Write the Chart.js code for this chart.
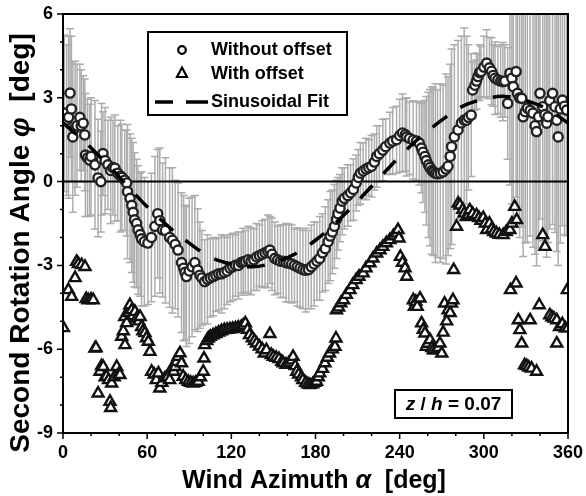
<!DOCTYPE html>
<html lang="en">
<head>
<meta charset="UTF-8">
<title>Second rotation angle vs wind azimuth</title>
<style>
  body { margin: 0; background: #fff; }
  canvas { display: block; }
</style>
<script src="https://cdn.jsdelivr.net/npm/chart.js"></script>
</head>
<body>
<canvas id="rotChart" width="586" height="496"></canvas>
<script>
const FONT = '"Liberation Sans", Arial, Helvetica, sans-serif';

// axis ticks
const xTickValues = [0, 60, 120, 180, 240, 300, 360];
const yTickValues = [-9, -6, -3, 0, 3, 6];

// "Without offset" circles: azimuth, angle, error bar half-length (deg)
const withoutDeg = [
  1, 2.6, 4, 5, 6, 7, 8.6, 10, 12, 13,
  14.4, 15.5, 16, 17.5, 19, 20, 22.8, 25, 27, 27.5,
  28.5, 30, 32, 34, 35.6, 37, 39, 41, 42, 44,
  45.4, 46, 47.8, 49, 50, 51, 52.5, 53.5, 55, 56,
  58, 60.5, 63, 65.5, 67.5, 69, 71, 73, 76, 78,
  80, 82, 84.5, 86, 87, 88, 90, 92, 94, 96,
  97.6, 99, 101, 103, 105, 107, 109, 111, 113, 115,
  117, 119, 121, 123, 125, 127, 128.5, 130, 132, 134,
  136, 138, 140, 142, 144, 146, 147.5, 149, 151, 153,
  155, 157, 159, 161, 163, 165, 167, 169, 171, 173,
  175, 177, 179, 181, 183, 185, 187, 189, 190.5, 192,
  193.5, 195, 196, 197.5, 199, 200.5, 203, 205, 207, 209,
  210.5, 212, 214, 216, 218, 220, 222, 223.6, 225.5, 228,
  230, 233, 235, 237.8, 240, 242, 244, 245, 247, 249.6,
  252, 254, 255.5, 256.6, 258, 259, 260.5, 261.6, 263, 264,
  265.5, 267, 269, 271, 273, 274.5, 276, 277, 279, 281.6,
  284, 286, 287.7, 289, 291, 292, 293.6, 294.8, 295.8, 297,
  298, 300, 302, 304, 305.5, 306.7, 308, 310, 312, 313.6,
  315, 317, 318.6, 320, 321, 323, 324, 325.5, 327, 328,
  329.5, 331, 333, 335, 336.5, 337.6, 339, 340, 342, 343.5,
  344.8, 345.7, 347, 349, 350.7, 352, 353, 354.5, 356, 357.5,
  359
];
const withoutPhi = [
  2.45, 2.2, 2.3, 3.17, 2.6, 1.6, 1.91, 2.0, 2.3, 2.0,
  2.09, 1.67, 0.95, 0.85, 0.77, 0.9, 0.6, 0.13, 0.0, 0.8,
  1.0, 0.75, 0.6, 0.4, 0.5, 0.48, 0.3, 0.2, 0.15, 0.05,
  -0.05, -0.36, -0.6, -0.85, -1.1, -1.37, -1.5, -1.73, -1.9, -2.05,
  -2.15, -2.2, -2.0, -1.6, -1.15, -1.4, -1.73, -1.75, -2.0, -2.1,
  -2.25, -2.45, -2.9, -3.1, -3.25, -3.4, -3.2, -3.05, -2.9, -3.17,
  -3.35, -3.45, -3.58, -3.5, -3.45, -3.4, -3.35, -3.3, -3.3, -3.25,
  -3.2, -3.1, -3.05, -3.0, -3.0, -2.9, -2.87, -2.85, -2.8, -2.85,
  -2.8, -2.7, -2.65, -2.6, -2.55, -2.5, -2.45, -2.6, -2.75, -2.8,
  -2.85, -2.85, -2.9, -2.92, -2.95, -3.0, -3.05, -3.1, -3.15, -3.17,
  -3.15, -3.05, -2.95, -2.85, -2.75, -2.55, -2.4, -2.15, -1.95, -1.8,
  -1.6, -1.35, -1.15, -0.95, -0.7, -0.6, -0.5, -0.4, -0.28, -0.05,
  0.15, 0.3, 0.38, 0.45, 0.5, 0.55, 0.7, 0.9, 1.0, 1.13,
  1.25, 1.38, 1.45, 1.5, 1.65, 1.74, 1.68, 1.6, 1.55, 1.49,
  1.45, 1.38, 1.2, 1.05, 0.9, 0.75, 0.6, 0.5, 0.4, 0.35,
  0.3, 0.28, 0.3, 0.35, 0.45, 0.55, 0.9, 1.25, 1.6, 1.85,
  2.1, 2.2, 2.2, 2.3, 2.38, 3.28, 3.45, 3.6, 3.76, 3.9,
  3.94, 4.1, 4.24, 4.07, 3.95, 3.8, 3.7, 3.64, 3.6, 3.58,
  3.6, 2.8, 3.88, 3.7, 3.4, 3.94, 3.16, 3.0, 2.98, 2.32,
  2.5, 2.63, 2.55, 2.45, 2.0, 1.79, 2.32, 3.16, 2.68, 2.4,
  2.09, 2.32, 2.9, 3.16, 2.68, 2.2, 1.6, 2.6, 2.92, 2.7,
  2.56
];
const withoutErr = [
  2.8, 2.7, 2.9, 2.3, 2.6, 2.7, 2.4, 2.2, 1.9, 2.0,
  1.7, 2.0, 2.2, 2.1, 2.0, 2.1, 2.3, 2.1, 1.8, 2.0,
  1.5, 1.9, 1.6, 1.9, 1.7, 1.9, 1.7, 2.0, 1.9, 1.8,
  1.9, 2.4, 2.3, 2.4, 2.5, 2.4, 2.3, 2.3, 2.2, 2.4,
  2.3, 2.2, 2.3, 2.5, 2.3, 2.6, 2.4, 2.6, 2.5, 2.6,
  2.3, 2.4, 2.5, 2.6, 2.4, 2.5, 2.6, 2.5, 2.4, 2.2,
  1.9, 1.7, 1.5, 1.6, 1.4, 1.4, 1.3, 1.3, 1.4, 1.3,
  1.2, 1.2, 1.2, 1.1, 1.2, 1.1, 1.2, 1.1, 1.2, 1.2,
  1.1, 1.2, 1.1, 1.2, 1.2, 1.3, 1.2, 1.3, 1.3, 1.2,
  1.3, 1.3, 1.4, 1.4, 1.4, 1.3, 1.4, 1.4, 1.4, 1.5,
  1.4, 1.5, 1.5, 1.4, 1.5, 1.4, 1.5, 1.5, 1.6, 1.5,
  1.5, 1.4, 1.3, 1.2, 1.2, 1.1, 1.1, 1.0, 1.1, 1.0,
  1.0, 1.1, 1.0, 1.1, 1.0, 1.1, 1.0, 1.1, 1.0, 1.1,
  1.0, 1.1, 1.2, 1.2, 1.3, 1.4, 1.3, 1.4, 1.3, 1.4,
  1.4, 1.5, 1.6, 1.8, 2.0, 2.3, 2.6, 2.8, 3.0, 3.0,
  3.2, 3.0, 3.2, 3.1, 3.4, 3.2, 3.3, 3.5, 3.3, 3.2,
  3.1, 3.3, 3.0, 2.6, 2.2, 1.0, 0.9, 1.0, 0.8, 1.0,
  0.9, 1.1, 1.2, 1.1, 1.2, 1.1, 1.3, 1.2, 1.3, 1.4,
  1.3, 2.0, 4.0, 4.5, 4.8, 4.5, 4.8, 5.0, 4.6, 5.0,
  4.7, 4.8, 4.5, 4.8, 4.6, 4.8, 4.7, 4.5, 4.8, 4.6,
  4.8, 4.5, 4.6, 4.7, 4.5, 4.7, 4.6, 4.8, 4.5, 4.6,
  4.5
];

// "With offset" triangles: azimuth, angle (deg)
const withDeg = [
  0.3, 3.8, 6.2, 8.6, 9.7, 11, 13.3, 15.7, 16.5, 18,
  20, 21.6, 22.8, 23.5, 25, 26.4, 27.5, 28.7, 30, 31,
  32.5, 33.5, 34, 34.7, 36.5, 38.3, 39.5, 40.6, 41.8, 43,
  44, 44.2, 45.4, 46.5, 47.7, 49, 50, 51.3, 52.5, 54,
  55, 56, 57, 58.4, 59.5, 60.8, 62, 63.2, 65, 66.5,
  68, 69, 70.5, 72.7, 74.5, 76, 77.5, 79, 80, 81,
  82, 83.4, 84.5, 85.7, 87.5, 89.3, 91, 92.8, 94.5, 96.4,
  98, 100, 100.5, 101, 102.5, 103.6, 105, 107, 109, 111,
  113, 115, 117, 119, 121, 123, 125, 127, 128.5, 130,
  131.5, 133, 135, 136.5, 138, 140, 142, 143.5, 145, 147.5,
  148.5, 150, 152, 154, 156, 157, 159, 161, 163, 164,
  165.5, 166.6, 168, 170, 171, 173, 174.5, 176, 178, 179.5,
  180.8, 182, 183, 185, 186.7, 188.5, 190, 192, 193.9, 194.6,
  195, 196.5, 198, 200, 202, 204.6, 206.5, 209, 211, 214,
  216, 218.8, 221, 223.6, 226, 228, 230.5, 233, 235.5, 237.8,
  238.8, 239.5, 240.5, 242, 243.8, 245, 249.7, 250.5, 251.5, 252.5,
  254.5, 255.6, 256.8, 258, 259, 260, 261.6, 263, 264, 266,
  267.5, 268.7, 270, 271, 272, 273.5, 274.5, 276, 277, 278,
  278.5, 280.6, 281.7, 283, 285, 286, 287.6, 289, 290, 292,
  294.8, 296.5, 298, 299.6, 301, 302, 304, 305.5, 307, 309,
  311, 313.8, 316, 318.6, 320, 322, 323.4, 319, 323, 324.6,
  325.7, 327, 329, 330.5, 332, 333, 334, 337.6, 339.5, 342,
  343.6, 347, 348.5, 350, 352, 352, 354, 356, 358, 360,
  359.5
];
const withPhi = [
  -5.24, -3.88, -4.12, -3.45, -2.87, -2.95, -2.98, -3.05, -4.2, -4.24,
  -4.22, -4.24, -5.97, -5.95, -7.58, -6.8, -6.6, -6.63, -7.0, -6.98,
  -7.1, -7.88, -8.1, -7.22, -7.0, -6.63, -6.9, -6.92, -5.55, -5.35,
  -4.84, -5.85, -5.06, -4.7, -4.42, -4.6, -4.8, -4.66, -4.9, -5.0,
  -4.84, -5.2, -5.35, -5.42, -5.6, -5.73, -6.09, -6.8, -6.9, -7.1,
  -6.86, -7.4, -7.2, -7.04, -7.0, -7.1, -6.7, -6.8, -6.63, -6.45,
  -6.27, -6.14, -6.5, -6.98, -7.1, -7.16, -7.2, -7.22, -7.2, -7.16,
  -7.0, -6.8, -6.33, -5.85, -5.7, -5.61, -5.55, -5.5, -5.45, -5.4,
  -5.35, -5.31, -5.3, -5.28, -5.27, -5.25, -5.22, -5.2, -5.15, -5.07,
  -5.3, -5.49, -5.6, -5.7, -5.79, -5.9, -6.0, -6.15, -6.03, -5.45,
  -6.2, -6.27, -6.3, -6.35, -6.45, -6.5, -6.55, -6.5, -6.4, -6.27,
  -6.6, -6.8, -6.9, -7.0, -7.1, -7.2, -7.25, -7.28, -7.25, -7.2,
  -7.16, -7.0, -6.86, -6.7, -6.5, -6.3, -6.15, -6.0, -5.91, -5.61,
  -4.6, -4.5, -4.35, -4.24, -4.05, -3.88, -3.7, -3.52, -3.4, -3.28,
  -3.1, -2.92, -2.75, -2.57, -2.45, -2.33, -2.2, -2.09, -1.95, -1.85,
  -1.73, -2.03, -2.69, -2.9, -3.1, -3.4, -4.24, -4.48, -4.3, -4.48,
  -4.18, -5.07, -5.3, -5.43, -5.91, -5.8, -5.67, -5.95, -6.03, -6.03,
  -5.95, -5.79, -6.15, -5.4, -4.36, -5.0, -4.6, -4.7, -4.36, -4.24,
  -3.16, -1.61, -0.78, -0.85, -1.0, -1.14, -1.26, -1.2, -1.02, -1.15,
  -1.2, -1.3, -1.4, -1.3, -1.5, -1.73, -1.5, -1.7, -1.8, -1.85,
  -1.9, -1.91, -1.8, -1.73, -1.5, -0.9, -1.37, -3.88, -3.64, -4.96,
  -5.31, -5.79, -6.57, -6.6, -6.65, -4.96, -6.69, -6.8, -4.42, -1.91,
  -2.33, -4.78, -4.85, -4.9, -4.96, -5.79, -5.2, -5.1, -5.25, -5.25,
  -3.88
];

// sinusoidal fit
const fitDeg = [0, 15, 30, 45, 60, 75, 90, 105, 120, 135, 150, 165, 180,
                195, 210, 225, 240, 255, 270, 285, 300, 315, 330, 345, 360];
const fitPhi = [2.1, 1.45, 0.7, -0.1, -0.9, -1.6, -2.2, -2.7, -2.95, -3.05, -2.9, -2.6, -2.1,
                -1.45, -0.7, 0.1, 0.9, 1.6, 2.2, 2.7, 2.95, 3.05, 2.9, 2.6, 2.1];

function drawParts(ctx, parts, size, cx, cy) {
  let total = 0;
  parts.forEach(p => {
    ctx.font = (p[1] ? 'italic ' : '') + 'bold ' + size + 'px ' + FONT;
    p.w = ctx.measureText(p[0]).width;
    total += p.w;
  });
  let x = cx - total / 2;
  ctx.textAlign = 'left';
  parts.forEach(p => {
    ctx.font = (p[1] ? 'italic ' : '') + 'bold ' + size + 'px ' + FONT;
    ctx.fillText(p[0], x, cy);
    x += p.w;
  });
}

const decorations = {
  id: 'decorations',
  beforeDatasetsDraw(chart) {
    const {ctx, chartArea: a, scales: {x, y}} = chart;
    ctx.save();
    ctx.beginPath();
    ctx.rect(a.left, a.top, a.right - a.left, a.bottom - a.top);
    ctx.clip();
    // error bars
    ctx.strokeStyle = '#adadad';
    ctx.lineWidth = 1.5;
    for (let i = 0; i < withoutDeg.length; i++) {
      const px = x.getPixelForValue(withoutDeg[i]);
      const top = y.getPixelForValue(withoutPhi[i] + withoutErr[i]);
      const bot = y.getPixelForValue(withoutPhi[i] - withoutErr[i]);
      ctx.beginPath();
      ctx.moveTo(px, top); ctx.lineTo(px, bot);
      ctx.moveTo(px - 4, top); ctx.lineTo(px + 4, top);
      ctx.moveTo(px - 4, bot); ctx.lineTo(px + 4, bot);
      ctx.stroke();
    }
    // zero line
    const y0 = y.getPixelForValue(0);
    ctx.strokeStyle = '#000';
    ctx.lineWidth = 2;
    ctx.beginPath();
    ctx.moveTo(a.left, y0); ctx.lineTo(a.right, y0);
    ctx.stroke();
    ctx.restore();
  },
  afterDraw(chart) {
    const {ctx, chartArea: a, scales: {x, y}} = chart;
    ctx.save();
    ctx.strokeStyle = '#000';
    ctx.fillStyle = '#000';

    // frame
    ctx.lineWidth = 2;
    ctx.strokeRect(a.left, a.top, a.right - a.left, a.bottom - a.top);

    // major + minor ticks, pointing out
    ctx.lineWidth = 1.5;
    ctx.beginPath();
    for (let v = 0; v <= 360; v += 20) {
      const px = x.getPixelForValue(v);
      ctx.moveTo(px, a.bottom);
      ctx.lineTo(px, a.bottom + (v % 60 === 0 ? 6 : 3));
    }
    for (let v = -9; v <= 6; v += 1) {
      const py = y.getPixelForValue(v);
      ctx.moveTo(a.left, py);
      ctx.lineTo(a.left - (v % 3 === 0 ? 6 : 3), py);
    }
    ctx.stroke();

    // legend box
    ctx.lineWidth = 2;
    ctx.strokeRect(148, 32, 199, 83);
    ctx.lineWidth = 2.2;
    ctx.beginPath();
    ctx.arc(182, 50, 3.8, 0, Math.PI * 2);
    ctx.stroke();
    ctx.beginPath();
    ctx.moveTo(182, 67.5); ctx.lineTo(187, 77); ctx.lineTo(177, 77); ctx.closePath();
    ctx.stroke();
    ctx.lineWidth = 3.5;
    ctx.beginPath();
    ctx.moveTo(155, 102); ctx.lineTo(173, 102);
    ctx.moveTo(186, 102); ctx.lineTo(208, 102);
    ctx.stroke();
    ctx.textBaseline = 'middle';
    ctx.textAlign = 'left';
    ctx.font = 'bold 18px ' + FONT;
    ctx.fillText('Without offset', 211, 50);
    ctx.fillText('With offset', 211, 74);
    ctx.fillText('Sinusoidal Fit', 211, 102);

    // z/h note
    ctx.lineWidth = 2;
    ctx.strokeRect(395, 390, 117, 28);
    drawParts(ctx, [['z', true], [' / ', false], ['h', true], [' = 0.07', false]], 19, 453.5, 404.5);

    // axis titles
    ctx.textBaseline = 'alphabetic';
    drawParts(ctx, [['Wind Azimuth ', false], ['α', true], ['  [deg]', false]], 25, 314, 488);
    ctx.translate(29, 243);
    ctx.rotate(-Math.PI / 2);
    drawParts(ctx, [['Second Rotation Angle ', false], ['φ', true], ['  [deg]', false]], 28, 0, 0);
    ctx.restore();
  }
};

const tickFont = { family: FONT, size: 18, weight: 'bold' };

new Chart(document.getElementById('rotChart'), {
  type: 'scatter',
  data: {
    datasets: [
      {
        label: 'Sinusoidal Fit',
        type: 'line',
        data: fitDeg.map((d, i) => ({ x: d, y: fitPhi[i] })),
        borderColor: '#000',
        borderWidth: 3.5,
        borderDash: [18, 16],
        pointRadius: 0,
        tension: 0.4,
        fill: false
      },
      {
        label: 'With offset',
        data: withDeg.map((d, i) => ({ x: d, y: withPhi[i] })),
        pointStyle: 'triangle',
        pointRadius: 6.3,
        borderWidth: 2.4,
        borderColor: '#111',
        backgroundColor: '#fff'
      },
      {
        label: 'Without offset',
        data: withoutDeg.map((d, i) => ({ x: d, y: withoutPhi[i] })),
        pointStyle: 'circle',
        pointRadius: 4.6,
        borderWidth: 2.4,
        borderColor: '#222',
        backgroundColor: '#fff'
      }
    ]
  },
  options: {
    responsive: false,
    animation: false,
    devicePixelRatio: 1,
    layout: { padding: { top: 14, right: 18, left: 0, bottom: 0 } },
    plugins: { legend: { display: false }, tooltip: { enabled: false } },
    scales: {
      x: {
        type: 'linear',
        min: 0,
        max: 360,
        afterBuildTicks: s => { s.ticks = xTickValues.map(v => ({ value: v })); },
        afterFit: s => { s.height = 63; s.paddingLeft = 0; s.paddingRight = 0; },
        grid: { display: false, drawTicks: false },
        border: { display: false },
        ticks: { font: tickFont, color: '#000', padding: 9, maxRotation: 0, autoSkip: false }
      },
      y: {
        type: 'linear',
        min: -9,
        max: 6,
        afterBuildTicks: s => { s.ticks = yTickValues.map(v => ({ value: v })); },
        afterFit: s => { s.width = 63; s.paddingTop = 0; s.paddingBottom = 0; },
        grid: { display: false, drawTicks: false },
        border: { display: false },
        ticks: { font: tickFont, color: '#000', padding: 10, autoSkip: false }
      }
    }
  },
  plugins: [decorations]
});
</script>
</body>
</html>
